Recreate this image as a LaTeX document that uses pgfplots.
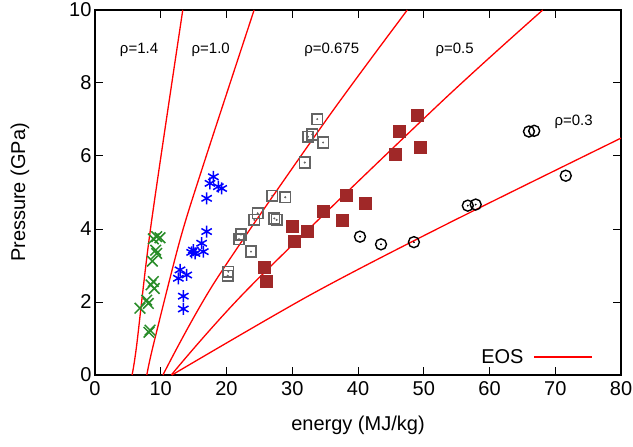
\documentclass[border=0pt]{standalone}
\usepackage{fontspec}
\setmainfont{Liberation Sans}
\setsansfont{Liberation Sans}
\usepackage{pgfplots}
\usepackage{pgfplotstable}
\pgfplotsset{compat=1.18}
\definecolor{eosred}{RGB}{255,0,0}
\definecolor{crossgreen}{RGB}{40,140,40}
\definecolor{starblue}{RGB}{0,0,255}
\definecolor{sqgray}{RGB}{100,100,100}
\definecolor{sqred}{RGB}{160,40,40}

% EOS curves
\pgfplotstableread{
E P
5.64 0
6.34 0.82
8.52 4.11
13.35 10
}\eosA
\pgfplotstableread{
E P
7.88 0
8.87 0.82
12.93 3.70
16.47 5.75
24.2 10
}\eosB
\pgfplotstableread{
E P
10.33 0
18.25 2.56
34.98 6.94
47.5 10
}\eosC
\pgfplotstableread{
E P
11.6 0
23.6 2.42
52.2 7.40
68.1 10
}\eosD
\pgfplotstableread{
E P
11.7 0
32.7 2.19
52.9 4.08
80 6.49
}\eosE

% rho = 1.4 (green crosses)
\pgfplotstableread{
E P
9.38 3.79
9.89 3.76
8.87 3.73
9.23 3.42
9.38 3.33
8.72 3.12
8.87 2.56
8.52 2.47
9.02 2.37
7.86 2.05
8.11 1.96
6.84 1.83
8.37 1.23
8.21 1.17
}\greendata

% rho = 1.0 (blue stars)
\pgfplotstableread{
E P
18.0 5.43
17.49 5.25
19.27 5.11
18.76 5.16
16.98 4.84
16.98 3.93
16.22 3.61
16.47 3.38
14.95 3.42
15.21 3.33
14.7 3.36
12.93 2.88
13.95 2.74
12.68 2.65
13.43 2.16
13.43 1.81
}\bluedata

% rho = 0.675 (gray open squares)
\pgfplotstableread{
E P
33.8 7.01
32.4 6.53
33.05 6.59
34.7 6.37
31.9 5.82
26.97 4.91
28.94 4.87
24.74 4.43
24.23 4.25
27.27 4.29
27.63 4.25
22.2 3.85
21.9 3.72
23.73 3.38
20.28 2.83
20.18 2.72
}\graydata

% rho = 0.5 (red filled squares)
\pgfplotstableread{
E P
49.07 7.12
46.33 6.67
49.52 6.23
45.63 6.06
38.28 4.93
41.06 4.72
34.68 4.49
37.57 4.25
29.96 4.09
32.2 3.93
30.27 3.67
25.7 2.94
26.11 2.58
}\reddata

% rho = 0.3 (black circles)
\pgfplotstableread{
E P
66.0 6.67
66.8 6.69
71.6 5.46
56.7 4.64
57.9 4.67
40.3 3.79
43.5 3.58
48.5 3.64
}\circdata

\begin{document}
\begin{tikzpicture}
\begin{axis}[
  scale only axis,
  width=526pt, height=365pt,
  xmin=0, xmax=80, ymin=0, ymax=10,
  xtick={0,10,...,80}, ytick={0,2,...,10},
  tick align=inside,
  major tick length=8pt,
  axis line style={line width=1.2pt},
  every tick/.style={black, line width=1pt},
  font=\fontsize{20}{24}\selectfont,
  tick label style={font=\fontsize{20}{24}\selectfont},
  xticklabel style={yshift=-3pt},
  /pgf/number format/assume math mode=true,
  xlabel={energy (MJ/kg)},
  ylabel={Pressure (GPa)},
  xlabel style={at={(axis description cs:0.5,-0.137)}, anchor=center},
  ylabel style={at={(axis description cs:-0.1426,0.5)}, anchor=center},
  legend style={draw=none, fill=none, at={(1,0)}, anchor=south east,
    xshift=-25pt, yshift=6pt, font=\fontsize{20}{24}\selectfont},
  legend plot pos=right,
  legend image code/.code={\path (0pt,0pt); \draw[#1] (8pt,0pt) -- (66pt,0pt);},
  clip=true,
]
\addplot[eosred, line width=1.3pt, no markers, smooth] table {\eosA};
\addlegendentry{EOS}
\addplot[eosred, line width=1.3pt, no markers, smooth, forget plot] table {\eosB};
\addplot[eosred, line width=1.3pt, no markers, smooth, forget plot] table {\eosC};
\addplot[eosred, line width=1.3pt, no markers, smooth, forget plot] table {\eosD};
\addplot[eosred, line width=1.3pt, no markers, smooth, forget plot] table {\eosE};

\addplot[only marks, mark=x, mark size=7.5pt, crossgreen, line width=1.5pt, forget plot] table {\greendata};
\addplot[only marks, mark=asterisk, mark size=6pt, starblue, line width=1.5pt, forget plot] table {\bluedata};
\addplot[only marks, mark=square, mark size=5.3pt, sqgray, line width=1.7pt, forget plot] table {\graydata};
\addplot[only marks, mark=*, mark size=0.8pt, sqgray, forget plot] table {\graydata};
\addplot[only marks, mark=square*, mark size=6pt, sqred, forget plot] table {\reddata};
\addplot[only marks, mark=o, mark size=5.5pt, black, line width=1.4pt, forget plot] table {\circdata};
\addplot[only marks, mark=*, mark size=0.7pt, black, forget plot] table {\circdata};

\node[font=\fontsize{15}{18}\selectfont] at (axis cs:6.7,8.9) {ρ=1.4};
\node[font=\fontsize{15}{18}\selectfont] at (axis cs:17.6,8.9) {ρ=1.0};
\node[font=\fontsize{15}{18}\selectfont] at (axis cs:36.0,8.9) {ρ=0.675};
\node[font=\fontsize{15}{18}\selectfont] at (axis cs:54.7,8.9) {ρ=0.5};
\node[font=\fontsize{15}{18}\selectfont] at (axis cs:72.8,6.93) {ρ=0.3};
\end{axis}
\pgfresetboundingbox
\path[use as bounding box] ([xshift=-95pt,yshift=-71pt]current axis.south west) rectangle ([xshift=12pt,yshift=10pt]current axis.north east);
\end{tikzpicture}
\end{document}
